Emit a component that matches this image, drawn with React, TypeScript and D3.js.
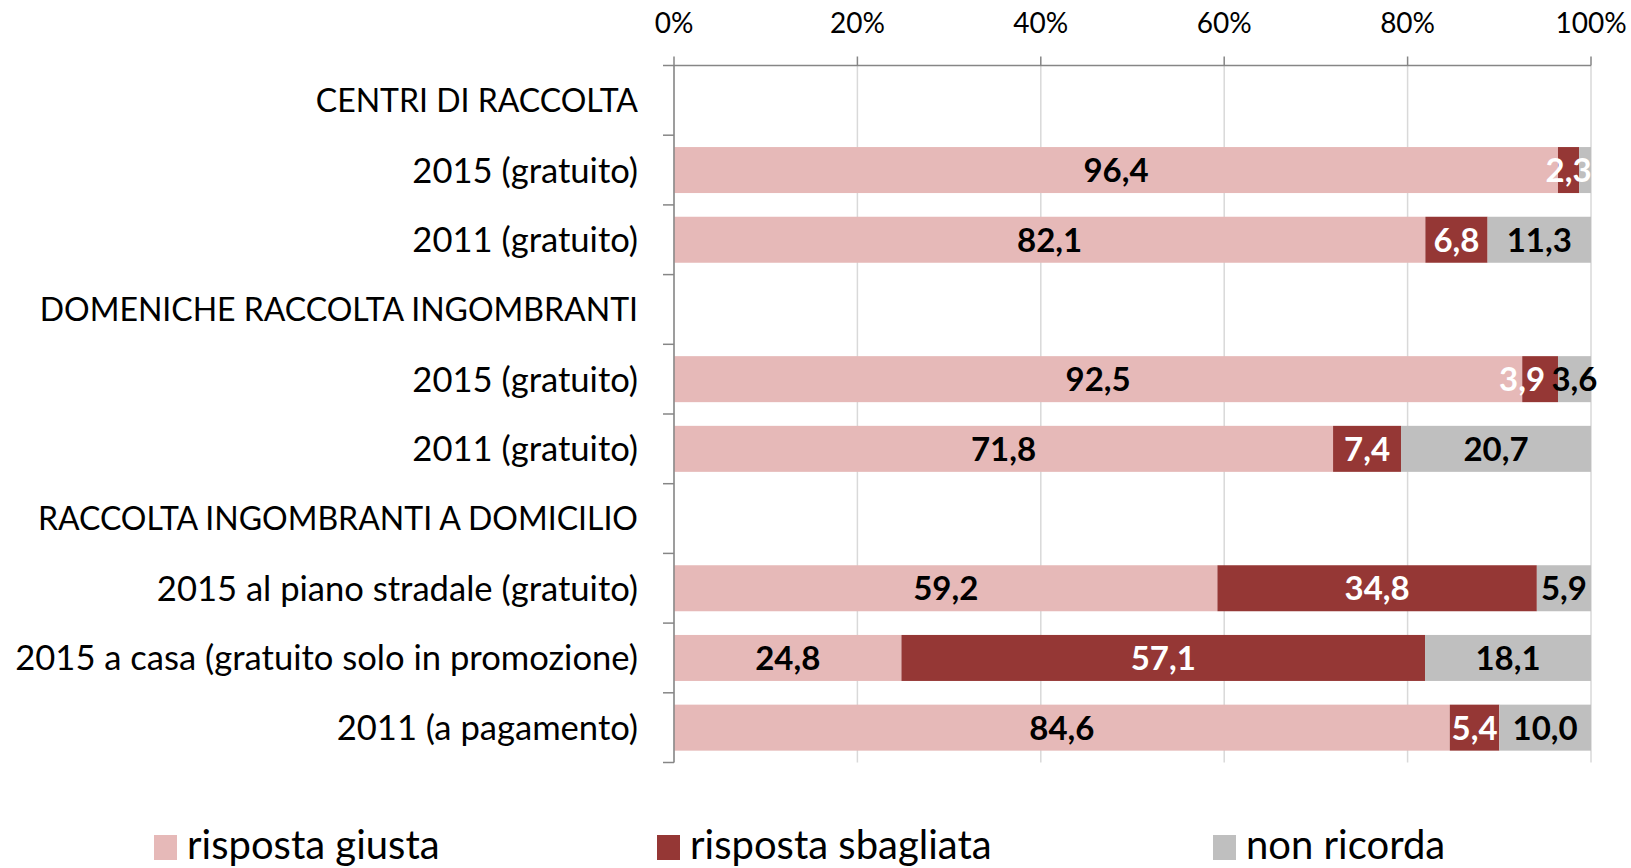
import React from "react";
import { scaleLinear, scaleBand } from "d3";

// rows of the chart, header rows have no values
const categories = [
  "CENTRI DI RACCOLTA",
  "2015 (gratuito)",
  "2011 (gratuito)",
  "DOMENICHE RACCOLTA INGOMBRANTI",
  "2015 (gratuito) ",
  "2011 (gratuito) ",
  "RACCOLTA INGOMBRANTI A DOMICILIO",
  "2015 al piano stradale (gratuito)",
  "2015 a casa (gratuito solo in promozione)",
  "2011 (a pagamento)",
];

const giusta = [null, 96.4, 82.1, null, 92.5, 71.8, null, 59.2, 24.8, 84.6];
const sbagliata = [null, 2.3, 6.8, null, 3.9, 7.4, null, 34.8, 57.1, 5.4];
const nonRicorda = [null, 1.3, 11.3, null, 3.6, 20.7, null, 5.9, 18.1, 10.0];

const seriesNames = ["risposta giusta", "risposta sbagliata", "non ricorda"];
const seriesColors = ["#E6B9B8", "#953735", "#BFBFBF"];
const labelColors = ["#000000", "#FFFFFF", "#000000"];

const ticks = [0, 20, 40, 60, 80, 100];

const W = 1631;
const H = 868;
const FONT = "Lato, 'Open Sans', sans-serif";

function fmt(v: number) {
  return v.toFixed(1).replace(".", ",");
}

export default function App() {
  const left = 674;
  const right = 1591;
  const top = 65.5;
  const bottom = 762.5;

  const x = scaleLinear().domain([0, 100]).range([left, right]);
  const y = scaleBand<string>()
    .domain(categories)
    .range([top, bottom])
    .paddingInner(0.34)
    .paddingOuter(0.17);
  const step = (bottom - top) / categories.length;

  const series = [giusta, sbagliata, nonRicorda];

  const bars: React.ReactNode[] = [];
  const labels: React.ReactNode[] = [];
  categories.forEach((c, i) => {
    if (giusta[i] === null) return;
    const vals = series.map((s) => s[i] as number);
    const total = vals[0] + vals[1] + vals[2];
    let acc = 0;
    vals.forEach((v, k) => {
      const x0 = x((acc / total) * 100);
      const x1 = x(((acc + v) / total) * 100);
      acc += v;
      const yy = y(c) as number;
      bars.push(
        <rect
          key={"b" + i + "-" + k}
          x={x0}
          y={yy}
          width={x1 - x0}
          height={y.bandwidth()}
          fill={seriesColors[k]}
        />
      );
      if (v < 2) return;
      // overlapping label moved left a bit like the original
      const nudge = i === 4 && k === 1 ? -18 : 0;
      labels.push(
        <text
          key={"l" + i + "-" + k}
          x={(x0 + x1) / 2 + nudge}
          y={yy + y.bandwidth() / 2}
          dy="0.36em"
          textAnchor="middle"
          fontWeight="bold"
          fontSize={33}
          fill={labelColors[k]}
        >
          {fmt(v)}
        </text>
      );
    });
  });

  const legendX = [154, 657, 1213];

  return (
    <svg
      width={W}
      height={H}
      style={{ position: "absolute", left: 0, top: 0, background: "white" }}
      fontFamily={FONT}
    >
      {/* gridlines */}
      {ticks.map((t) => (
        <line
          key={"g" + t}
          x1={x(t)}
          x2={x(t)}
          y1={top}
          y2={bottom}
          stroke="#D9D9D9"
          strokeWidth={1.5}
        />
      ))}
      {bars}
      {/* top axis */}
      <line x1={left - 11} x2={right} y1={top} y2={top} stroke="#868686" strokeWidth={1.5} />
      {ticks.map((t) => (
        <g key={"t" + t}>
          <line x1={x(t)} x2={x(t)} y1={top - 9} y2={top} stroke="#868686" strokeWidth={1.5} />
          <text x={x(t)} y={23} dy="0.36em" textAnchor="middle" fontSize={28} fill="#000">
            {t + "%"}
          </text>
        </g>
      ))}
      {/* left axis */}
      <line x1={left} x2={left} y1={top} y2={bottom} stroke="#868686" strokeWidth={1.5} />
      {categories.map((c, i) => (
        <line
          key={"lt" + i}
          x1={left - 11}
          x2={left}
          y1={top + step * (i + 1)}
          y2={top + step * (i + 1)}
          stroke="#868686"
          strokeWidth={1.5}
        />
      ))}
      {categories.map((c, i) => (
        <text
          key={"c" + i}
          x={638}
          y={top + step * (i + 0.5)}
          dy="0.36em"
          textAnchor="end"
          fontSize={giusta[i] === null ? 32 : 34.6}
          fill="#000"
        >
          {c.trim()}
        </text>
      ))}
      {labels}
      {/* legend */}
      {seriesNames.map((n, k) => (
        <g key={"lg" + k}>
          <rect x={legendX[k]} y={835} width={23} height={25} fill={seriesColors[k]} />
          <text x={legendX[k] + 33} y={859} fontSize={40} fill="#000">
            {n}
          </text>
        </g>
      ))}
    </svg>
  );
}
